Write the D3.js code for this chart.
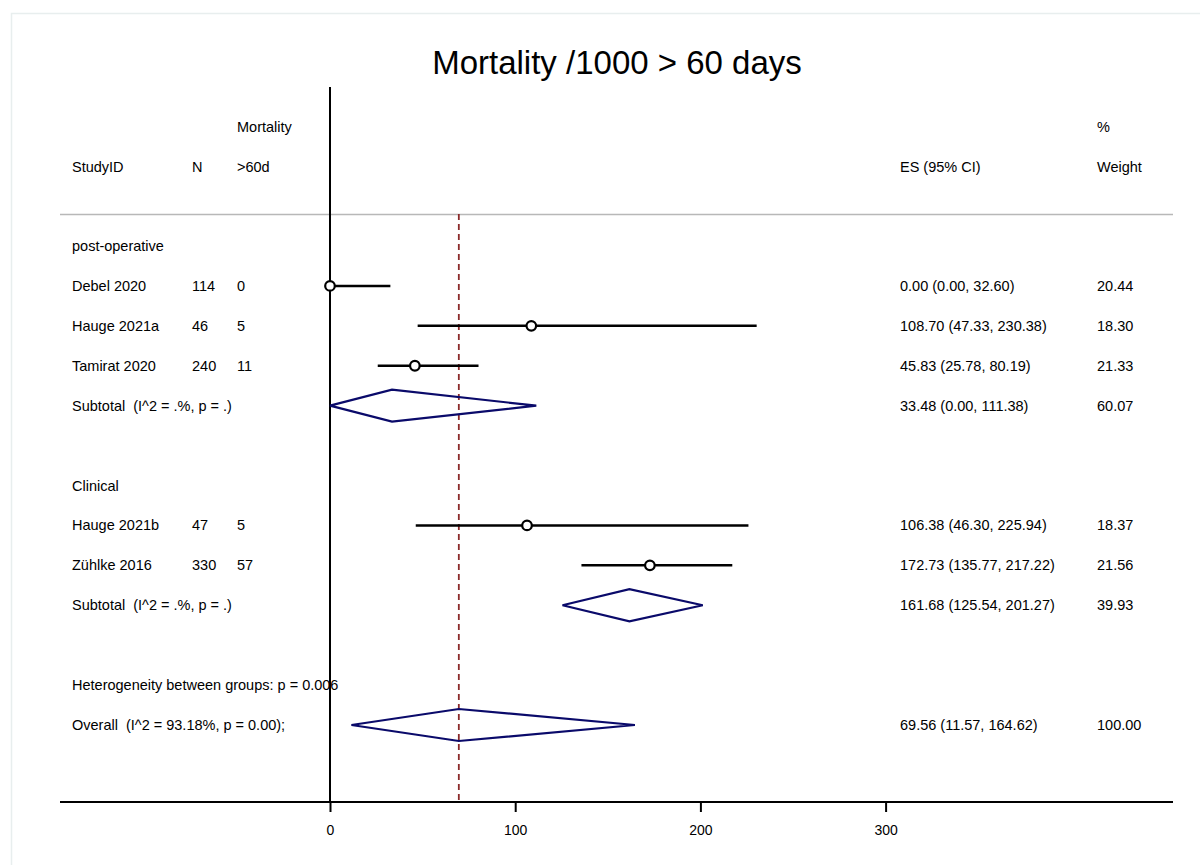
<!DOCTYPE html>
<html>
<head>
<meta charset="utf-8">
<script src="https://cdn.jsdelivr.net/npm/d3@7"></script>
<style>
body { margin: 0; background: #fff; }
text { font-family: "Liberation Sans", Arial, Helvetica, sans-serif; white-space: pre; }
</style>
</head>
<body>
<div id="chart"></div>
<script>

// rows of the forest plot (row index = vertical slot)
var studies = ["Debel 2020", "Hauge 2021a", "Tamirat 2020", "Hauge 2021b", "Zühlke 2016"];
var studyRow = [1, 2, 3, 7, 8];
var studyN = [114, 46, 240, 47, 330];
var studyDeaths = [0, 5, 11, 5, 57];
var studyES = [0.00, 108.70, 45.83, 106.38, 172.73];
var studyLo = [0.00, 47.33, 25.78, 46.30, 135.77];
var studyHi = [32.60, 230.38, 80.19, 225.94, 217.22];
var studyWeight = ["20.44", "18.30", "21.33", "18.37", "21.56"];

var groupLabels = ["post-operative", "Clinical"];
var groupRow = [0, 6];

var pooledLabels = ["Subtotal  (I^2 = .%, p = .)", "Subtotal  (I^2 = .%, p = .)", "Overall  (I^2 = 93.18%, p = 0.00);"];
var pooledRow = [4, 9, 12];
var pooledES = [33.48, 161.68, 69.56];
var pooledLo = [0.00, 125.54, 11.57];
var pooledHi = [111.38, 201.27, 164.62];
var pooledWeight = ["60.07", "39.93", "100.00"];

var hetText = "Heterogeneity between groups: p = 0.006";
var hetRow = 11;

var xTicks = [0, 100, 200, 300];
var overallES = 69.56;

var W = 1200, H = 865;
var svg = d3.select("#chart").append("svg")
    .attr("width", W)
    .attr("height", H);

// faint frame
svg.append("rect")
    .attr("x", 11.5).attr("y", 13.5)
    .attr("width", 1200).attr("height", 900)
    .attr("fill", "none")
    .attr("stroke", "#e8eeee")
    .attr("stroke-width", 1.5);

var xScale = d3.scaleLinear().domain([0, 300]).range([330, 885.6]);
var yScale = d3.scaleLinear().domain([0, 12]).range([246, 725]);

var fmt = d3.format(".2f");
var esText = function(e, l, h) { return fmt(e) + " (" + fmt(l) + ", " + fmt(h) + ")"; };

// title
svg.append("text")
    .attr("x", 617).attr("y", 74)
    .attr("text-anchor", "middle")
    .style("font-size", "33px")
    .text("Mortality /1000 > 60 days");

// header
var hdr = svg.append("g").style("font-size", "14.5px");
hdr.append("text").attr("x", 237).attr("y", 132).text("Mortality");
hdr.append("text").attr("x", 1097).attr("y", 132).text("%");
hdr.append("text").attr("x", 72).attr("y", 172).text("StudyID");
hdr.append("text").attr("x", 192).attr("y", 172).text("N");
hdr.append("text").attr("x", 237).attr("y", 172).text(">60d");
hdr.append("text").attr("x", 900).attr("y", 172).text("ES (95% CI)");
hdr.append("text").attr("x", 1097).attr("y", 172).text("Weight");

svg.append("line")
    .attr("x1", 60).attr("x2", 1173)
    .attr("y1", 214.5).attr("y2", 214.5)
    .attr("stroke", "#b8b8b8").attr("stroke-width", 1.5);

// overall effect line (dashed)
svg.append("line")
    .attr("x1", xScale(overallES)).attr("x2", xScale(overallES))
    .attr("y1", 214).attr("y2", 802)
    .attr("stroke", "#8b2a2a").attr("stroke-width", 1.8)
    .attr("stroke-dasharray", "6,4");

// null line
svg.append("line")
    .attr("x1", xScale(0)).attr("x2", xScale(0))
    .attr("y1", 87).attr("y2", 802)
    .attr("stroke", "#000").attr("stroke-width", 2);

// axis
var x_axis = d3.axisBottom(xScale).tickValues(xTicks).tickSize(10).tickPadding(13);
var ax = svg.append("g")
    .attr("transform", "translate(0,802)")
    .call(x_axis);
ax.select(".domain").remove();
ax.selectAll(".tick line").attr("stroke", "#000").attr("stroke-width", 2);
ax.selectAll(".tick text").style("font-size", "14px").attr("fill", "#000")
    .style("font-family", "Liberation Sans, Arial, sans-serif");
svg.append("line")
    .attr("x1", 60).attr("x2", 1173)
    .attr("y1", 802).attr("y2", 802)
    .attr("stroke", "#000").attr("stroke-width", 2);

var txt = svg.append("g").style("font-size", "14.5px").attr("fill", "#000");

// group labels
groupLabels.forEach(function(g, i) {
    txt.append("text").attr("x", 72).attr("y", yScale(groupRow[i]) + 5).text(g);
});

// studies
studies.forEach(function(s, i) {
    var y = yScale(studyRow[i]);
    txt.append("text").attr("x", 72).attr("y", y + 5).text(s);
    txt.append("text").attr("x", 192).attr("y", y + 5).text(studyN[i]);
    txt.append("text").attr("x", 237).attr("y", y + 5).text(studyDeaths[i]);
    txt.append("text").attr("x", 900).attr("y", y + 5).text(esText(studyES[i], studyLo[i], studyHi[i]));
    txt.append("text").attr("x", 1097).attr("y", y + 5).text(studyWeight[i]);

    svg.append("line")
        .attr("x1", xScale(studyLo[i])).attr("x2", xScale(studyHi[i]))
        .attr("y1", y).attr("y2", y)
        .attr("stroke", "#000").attr("stroke-width", 2.5);
    svg.append("circle")
        .attr("cx", xScale(studyES[i])).attr("cy", y).attr("r", 4.8)
        .attr("fill", "#fff").attr("stroke", "#000").attr("stroke-width", 2.2);
});

// pooled diamonds
pooledLabels.forEach(function(p, i) {
    var y = yScale(pooledRow[i]);
    txt.append("text").attr("x", 72).attr("y", y + 5).text(p);
    txt.append("text").attr("x", 900).attr("y", y + 5).text(esText(pooledES[i], pooledLo[i], pooledHi[i]));
    txt.append("text").attr("x", 1097).attr("y", y + 5).text(pooledWeight[i]);
    var pts = [[xScale(pooledLo[i]), y], [xScale(pooledES[i]), y - 16],
               [xScale(pooledHi[i]), y], [xScale(pooledES[i]), y + 16]];
    svg.append("polygon")
        .attr("points", pts.map(function(d) { return d.join(","); }).join(" "))
        .attr("fill", "none")
        .attr("stroke", "#0a0a6a").attr("stroke-width", 2.2);
});

txt.append("text").attr("x", 72).attr("y", yScale(hetRow) + 5).text(hetText);

</script>
</body>
</html>
